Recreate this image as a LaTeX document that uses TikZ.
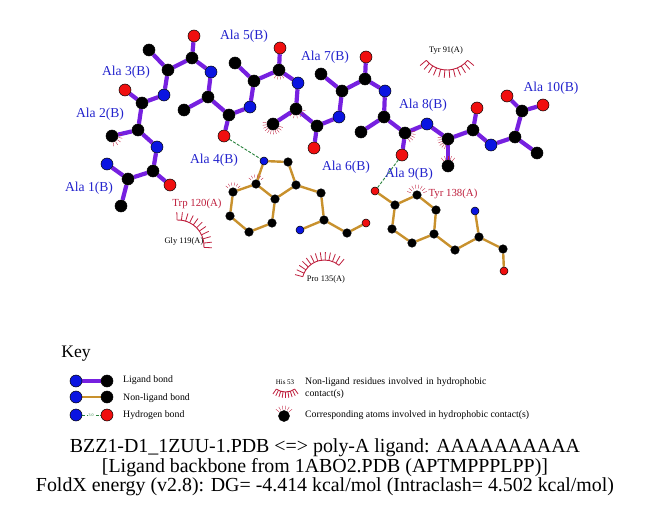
\documentclass[tikz,border=0pt]{standalone}
\usepackage{fontspec}
\setmainfont{Liberation Serif}
\usetikzlibrary{backgrounds,calc}
\definecolor{ligpurple}{RGB}{118,32,224}
\definecolor{nonlig}{RGB}{200,145,45}
\definecolor{atomblue}{RGB}{10,20,225}
\definecolor{atomred}{RGB}{240,15,15}
\definecolor{lblblue}{RGB}{35,35,205}
\definecolor{lash}{RGB}{190,30,60}
\definecolor{hgreen}{RGB}{40,130,60}
\tikzset{
 x=1pt,y=-1pt,
 ball/.style={circle,draw=black,line width=0.5pt,inner sep=0pt,minimum size=#1},
 bk/.style={ball=12pt,fill=black},
 bl/.style={ball=12pt,fill=atomblue},
 rd/.style={ball=12pt,fill=atomred},
 sbk/.style={ball=8.5pt,fill=black},
 sbl/.style={ball=8pt,fill=atomblue},
 srd/.style={ball=8pt,fill=atomred},
 ligbond/.style={draw=ligpurple,line width=4.2pt},
 nlbond/.style={draw=nonlig,line width=2.4pt},
 hbond/.style={draw=hgreen,line width=0.9pt,dash pattern=on 3pt off 1.5pt},
 resB/.style={text=lblblue,font=\fontsize{13.6}{14}\selectfont,inner sep=0pt,yshift=-1.5pt},
 resR/.style={text=lash,font=\fontsize{10.8}{11}\selectfont,inner sep=0pt,yshift=-1pt},
 resK/.style={text=black,font=\fontsize{8.4}{9}\selectfont,inner sep=0pt},
 keytxt/.style={text=black,font=\fontsize{9.8}{12}\selectfont,inner sep=0pt,anchor=west,align=left},
 title/.style={text=black,font=\fontsize{19.9}{22}\selectfont,inner sep=0pt,yshift=-1.5pt},
 lashline/.style={draw=lash,line width=0.9pt},
 tick/.style={draw=lash,line width=0.35pt},
}
% spokes round an atom (on-screen angles)
\newcommand{\hydm}[5][4]{% [len] node, start, end, count
  \foreach \i in {0,...,#5}{
    \pgfmathsetmacro\aa{#3+(#4-#3)*\i/#5}
    \pgfmathsetmacro\rr{6.5+#1}
    \draw[tick,shift={(#2)}] (\aa:6.5pt) -- (\aa:\rr pt);
  }}
% residue eyelash: centre, radius, start, end, count, spoke length
\newcommand{\eyelash}[6]{%
  \draw[lashline] ($(#1)+(#3:#2pt)$) arc[start angle=#3,end angle=#4,radius=#2pt];
  \foreach \i in {0,...,#5}{
    \pgfmathsetmacro\aa{#3+(#4-#3)*\i/#5}
    \pgfmathsetmacro\rr{#2+#6}
    \draw[lashline,line width=0.8pt,shift={(#1)}] (\aa:#2pt) -- (\aa:\rr pt);
  }}
\begin{document}
\begin{tikzpicture}
\useasboundingbox (0,0) rectangle (651,511);
% ligand atoms
\foreach \n/\x/\y in {CAa/128/179,CBa/121/206,Ca/153/171,CAb/138/130,CBb/112/136,Cb/142/103,CAc/168/70,CBc/149/50,Cc/192/58,CAd/208/97,CBd/184/110,Cd/229/115,CAe/254/81,CBe/235/63,Ce/279/70,CAf/296/109,CBf/273/124,Cf/317/126,CAg/342/91,CBg/321/74,Cg/365/79,CAh/384/117,CBh/361/132,Ch/405/133,CAi/448/139,CBi/448/166,Ci/473/130,CAj/515/137,CBj/537/153,Cj/522/111}
  \node[bk] (\n) at (\x,\y) {};
\foreach \n/\x/\y in {Na/107/164,Nb/157/147,Nc/164/95,Nd/211/72,Ne/250/107,Nf/298/83,Ng/339/117,Nh/385/91,Ni/427/124,Nj/491/145}
  \node[bl] (\n) at (\x,\y) {};
\foreach \n/\x/\y in {Oa/170/185,Ob/125/90,Oc/194/36,Od/224/136,Oe/280/48,Of/314/148,Og/366/57,Oh/402/155,Oi/477/108,Oj/507/96,Ok/543/105}
  \node[rd] (\n) at (\x,\y) {};
% Trp
\foreach \n/\x/\y in {TA/288/162,TB/296/185,TC/275/199,TD/256/184,TE/233/192,TF/230/216,TG/249/232,TH/272/223,TI/321/193,TJ/324/220,TK/347/233}
  \node[sbk] (\n) at (\x,\y) {};
\node[sbl] (TN) at (264,161) {};
\node[sbl] (TM) at (300,230) {};
\node[srd] (TO) at (366,223) {};
% Tyr
\foreach \n/\x/\y in {YA/395/205,YB/417/195,YC/436/210,YD/434/234,YE/412/243,YF/392/229,YG/455/250,YH/479/237,YI/503/249}
  \node[sbk] (\n) at (\x,\y) {};
\node[srd] (YO) at (375,191) {};
\node[sbl] (YN) at (475,211) {};
\node[srd] (YP) at (504,271) {};
% bonds
\begin{pgfonlayer}{background}
\foreach \a/\b in {Na/CAa,CAa/CBa,CAa/Ca,Ca/Oa,Ca/Nb,Nb/CAb,CAb/CBb,CAb/Cb,Cb/Ob,Cb/Nc,Nc/CAc,CAc/CBc,CAc/Cc,Cc/Oc,Cc/Nd,Nd/CAd,CAd/CBd,CAd/Cd,Cd/Od,Cd/Ne,Ne/CAe,CAe/CBe,CAe/Ce,Ce/Oe,Ce/Nf,Nf/CAf,CAf/CBf,CAf/Cf,Cf/Of,Cf/Ng,Ng/CAg,CAg/CBg,CAg/Cg,Cg/Og,Cg/Nh,Nh/CAh,CAh/CBh,CAh/Ch,Ch/Oh,Ch/Ni,Ni/CAi,CAi/CBi,CAi/Ci,Ci/Oi,Ci/Nj,Nj/CAj,CAj/CBj,CAj/Cj,Cj/Oj,Cj/Ok}
  \draw[ligbond] (\a) -- (\b);
\foreach \a/\b in {TN/TA,TA/TB,TB/TC,TC/TD,TD/TN,TD/TE,TE/TF,TF/TG,TG/TH,TH/TC,TB/TI,TI/TJ,TJ/TM,TJ/TK,TK/TO,YO/YA,YA/YB,YB/YC,YC/YD,YD/YE,YE/YF,YF/YA,YD/YG,YG/YH,YH/YN,YH/YI,YI/YP}
  \draw[nlbond] (\a) -- (\b);
\end{pgfonlayer}
\draw[hbond] (Od) -- (TN);
\draw[hbond] (Oh) -- (YO);
% atom hydrophobic marks
\hydm{CBb}{-80}{10}{4}
\hydm[3]{Ce}{-120}{-60}{3}
\hydm[3]{CAf}{-130}{-10}{5}
\hydm{CBf}{-20}{-190}{10}
\hydm{Ch}{-60}{10}{4}
\hydm{CAi}{170}{250}{5}
\hydm{CBi}{50}{130}{4}
\hydm{YB}{20}{160}{7}
\hydm[3]{TE}{40}{140}{5}
\hydm[3]{TD}{40}{140}{5}
% residues
\coordinate (c91) at (447,43);
\eyelash{c91}{27}{-140}{-40}{11}{8}
\coordinate (c120) at (178,246);
\eyelash{c120}{26}{92}{-3}{10}{8}
\coordinate (c135) at (324.5,282.5);
\eyelash{c135}{22.5}{165}{50}{12}{8}
% labels
\node[resB] (la) at (89,187) {Ala 1(B)};
\node[resB] (lb) at (100,113) {Ala 2(B)};
\node[resB] (lc) at (126,71) {Ala 3(B)};
\node[resB] (ld) at (214,159) {Ala 4(B)};
\node[resB] (le) at (244,35) {Ala 5(B)};
\node[resB] (lf) at (346,166) {Ala 6(B)};
\node[resB] (lg) at (325,56) {Ala 7(B)};
\node[resB] (lh) at (423,104) {Ala 8(B)};
\node[resB] (li) at (409,173) {Ala 9(B)};
\node[resB] (lj) at (551,87) {Ala 10(B)};
\node[resR] (rY) at (453,193) {Tyr 138(A)};
\node[resR] (rT) at (197,203) {Trp 120(A)};
\node[resK] (rG) at (184,241) {Gly 119(A)};
\node[resK] (rP) at (326,279) {Pro 135(A)};
\node[resK] (r9) at (446,50) {Tyr 91(A)};
% key
\node[text=black,font=\fontsize{17.6}{18}\selectfont,inner sep=0pt,yshift=-2pt] (kk) at (76,352) {Key};
\node[bl] (k1a) at (76,381) {};
\node[bk] (k1b) at (107,381) {};
\node[bl] (k2a) at (76,397) {};
\node[bk] (k2b) at (107,397) {};
\node[bl] (k3a) at (76,415) {};
\node[rd] (k3b) at (107,415) {};
\begin{pgfonlayer}{background}
\draw[ligbond] (k1a) -- (k1b);
\draw[nlbond] (k2a) -- (k2b);
\draw[hbond] (k3a) -- (k3b);
\end{pgfonlayer}
\node[fill=white,text=hgreen,font=\fontsize{4}{4}\selectfont,inner sep=0.5pt] (k3l) at (91,415) {3.0};
\node[keytxt] (kt1) at (123,380) {Ligand bond};
\node[keytxt] (kt2) at (123,398) {Non-ligand bond};
\node[keytxt] (kt3) at (123,415) {Hydrogen bond};
\node[text=black,font=\fontsize{7}{7}\selectfont,inner sep=0pt] (kh) at (285,382) {His 53};
\coordinate (ckh) at (285.5,376);
\eyelash{ckh}{16}{-125}{-55}{8}{6}
\node[sbk,minimum size=11pt] (kc) at (284,416) {};
\hydm[4]{kc}{40}{140}{5}
\node[keytxt,text width=240pt] (kt4) at (305,388) {Non-ligand residues involved in hydrophobic\\contact(s)};
\node[keytxt] (kt5) at (305,415) {Corresponding atoms involved in hydrophobic contact(s)};
% title
\node[title] (t1) at (325,446) {BZZ1-D1\_1ZUU-1.PDB <=> poly-A ligand: AAAAAAAAAA};
\node[title] (t2) at (325,466) {[Ligand backbone from 1ABO2.PDB (APTMPPPLPP)]};
\node[title] (t3) at (325,485) {FoldX energy (v2.8): DG= -4.414 kcal/mol (Intraclash= 4.502 kcal/mol)};
\end{tikzpicture}
\end{document}
